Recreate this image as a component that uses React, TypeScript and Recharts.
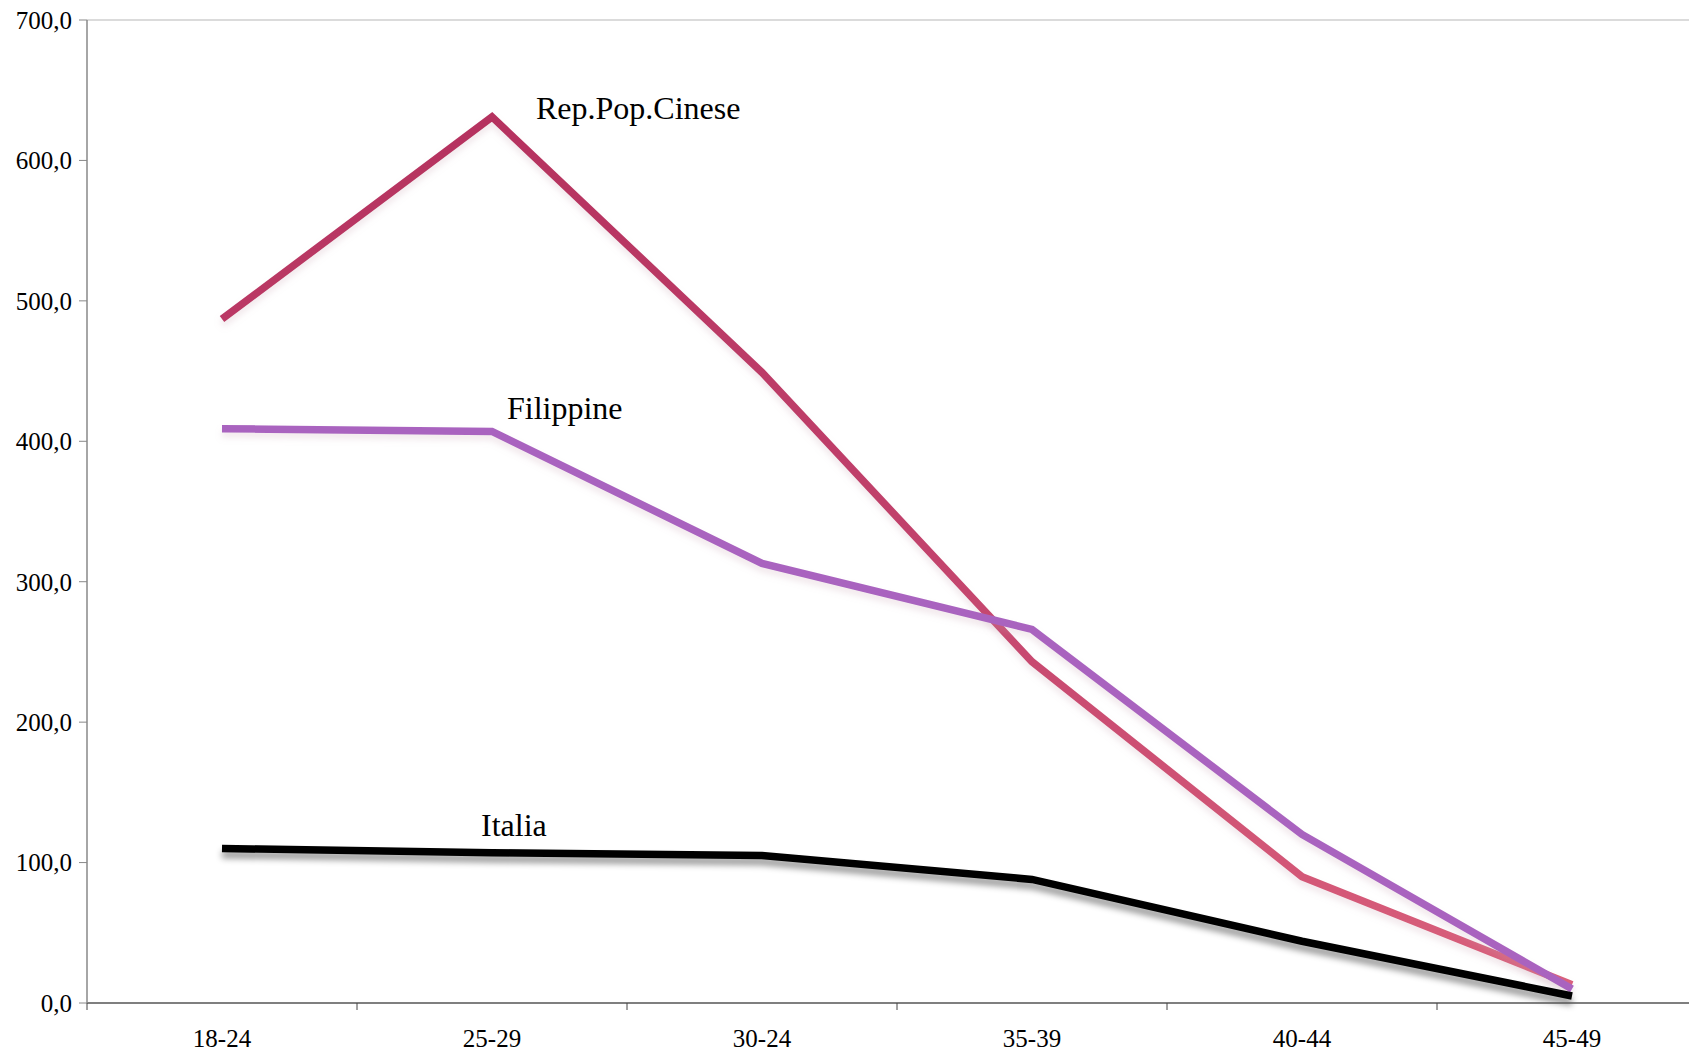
import React from "react"
import { LineChart, Line, XAxis, YAxis, ReferenceLine, LabelList } from "recharts"

const AGE_GROUPS = ["18-24", "25-29", "30-24", "35-39", "40-44", "45-49"]
const CINA = [487, 631, 449, 243, 90, 13]
const FILIPPINE = [409, 407, 313, 266, 120, 10]
const ITALIA = [110, 107, 105, 88, 44, 5]
const Y_TICKS = [0, 100, 200, 300, 400, 500, 600, 700]

const FONT = "'Liberation Serif', 'Times New Roman', serif"

const data = AGE_GROUPS.map((g, i) => ({
  age: g,
  cina: CINA[i],
  filippine: FILIPPINE[i],
  italia: ITALIA[i],
}))

const fmt = (v: number) => v.toFixed(1).replace(".", ",")

// Excel-style axis: label in the middle of the band, tick mark between bands
function AgeTick(props: any) {
  const { x, y, payload } = props
  const off = payload?.offset ?? 135
  return (
    <g>
      <line x1={x - off} x2={x - off} y1={y} y2={y + 7} stroke="#444" strokeWidth={1} />
      <text x={x} y={y + 44} textAnchor="middle" fontSize={25} fontFamily={FONT} fill="#000">
        {payload.value}
      </text>
    </g>
  )
}

// series name written next to the 25-29 point
const seriesLabel = (name: string, values: number[], dx: number, dy: number) => (props: any) => {
  const idx = props.index ?? values.indexOf(props.value)
  if (idx !== 1) return null
  return (
    <text x={props.x + dx} y={props.y + dy} fontSize={32} fontFamily={FONT} fill="#000">
      {name}
    </text>
  )
}

export default function App() {
  return (
    <div style={{ width: 1689, height: 1054, overflow: "hidden", background: "#fff" }}>
      <style>{"body{margin:0}"}</style>
      <LineChart
        width={1720}
        height={1054}
        data={data}
        margin={{ top: 20, right: 13, left: 0, bottom: 10 }}
      >
        <defs>
          <linearGradient id="cinaStroke" x1="0" y1="0" x2="0" y2="1">
            <stop offset="0%" stopColor="#b5325f" />
            <stop offset="45%" stopColor="#c0406b" />
            <stop offset="100%" stopColor="#d95f7b" />
          </linearGradient>
          <filter id="shadowDark" x="-5%" y="-50%" width="110%" height="200%">
            <feDropShadow dx={0} dy={6} stdDeviation={3} floodColor="#000" floodOpacity={0.4} />
          </filter>
          <filter id="shadowSoft" x="-5%" y="-20%" width="110%" height="140%">
            <feDropShadow dx={0} dy={5} stdDeviation={3} floodColor="#c8a0b0" floodOpacity={0.25} />
          </filter>
        </defs>
        <XAxis
          dataKey="age"
          scale="band"
          height={41}
          interval={0}
          tick={<AgeTick />}
          tickLine={false}
          tickSize={0}
          tickMargin={0}
          axisLine={{ stroke: "#555", strokeWidth: 1.5 }}
        />
        <YAxis
          width={87}
          domain={[0, 700]}
          ticks={Y_TICKS}
          tickFormatter={fmt}
          tickSize={8}
          tickMargin={7}
          tickLine={{ stroke: "#888" }}
          axisLine={{ stroke: "#888", strokeWidth: 1.5 }}
          tick={{ fontSize: 25, fontFamily: FONT, fill: "#000" }}
        />
        <ReferenceLine y={700} stroke="#cfcfcf" strokeWidth={1.5} />
        <Line
          dataKey="cina"
          stroke="url(#cinaStroke)"
          strokeWidth={7.5}
          dot={false}
          strokeLinejoin="miter"
          filter="url(#shadowSoft)"
          isAnimationActive={false}
        >
          <LabelList dataKey="cina" content={seriesLabel("Rep.Pop.Cinese", CINA, 44, 2)} />
        </Line>
        <Line
          dataKey="filippine"
          stroke="#a964bf"
          strokeWidth={7.5}
          dot={false}
          strokeLinejoin="miter"
          filter="url(#shadowSoft)"
          isAnimationActive={false}
        >
          <LabelList dataKey="filippine" content={seriesLabel("Filippine", FILIPPINE, 15, -12)} />
        </Line>
        <Line
          dataKey="italia"
          stroke="#000"
          strokeWidth={7.5}
          dot={false}
          strokeLinejoin="miter"
          filter="url(#shadowDark)"
          isAnimationActive={false}
        >
          <LabelList dataKey="italia" content={seriesLabel("Italia", ITALIA, -11, -17)} />
        </Line>
      </LineChart>
    </div>
  )
}
